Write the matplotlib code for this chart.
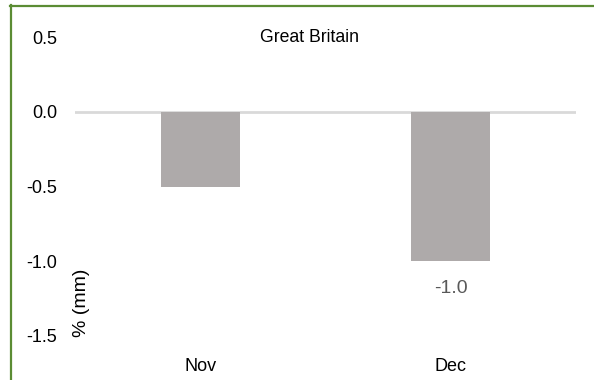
import matplotlib
matplotlib.use("Agg")
import matplotlib.pyplot as plt
from matplotlib.lines import Line2D
import matplotlib.transforms as mtransforms

plt.rcParams['font.family'] = ['Liberation Sans', 'DejaVu Sans']
plt.rcParams['axes.unicode_minus'] = False

categories = ["Nov", "Dec"]
values = [-0.5, -1.0]
show_label = [False, True]
yticks = [0.5, 0.0, -0.5, -1.0, -1.5]
title = "Great Britain"
ylabel = "% (mm)"

W, H = 594, 380
fig = plt.figure(figsize=(W / 100, H / 100), dpi=100)
ax = fig.add_axes([75 / W, (H - 336) / H, (576 - 75) / W, (336 - 37) / H])

x = list(range(len(categories)))
bars = ax.bar(x, values, width=0.315, color="#aeaaaa", zorder=2)
ax.axhline(0, color="#d9d9d9", lw=2, zorder=1)

for xi, v, s in zip(x, values, show_label):
    if s:
        ax.annotate(f"{v:.1f}", (xi, v), xytext=(0, -19.5), textcoords="offset points",
                    ha="center", va="center", fontsize=14, color="#595959")

ax.set_xlim(-0.5, 1.5)
ax.set_ylim(-1.5, 0.5)
ax.set_yticks(yticks)
ax.set_yticklabels([f"{t:.1f}" for t in yticks])
ax.set_xticks(x)
ax.set_xticklabels(categories)
ax.tick_params(axis="y", length=0, pad=13, labelsize=13, colors="black")
ax.tick_params(axis="x", length=0, pad=16, labelsize=13, colors="black")
for sp in ax.spines.values():
    sp.set_visible(False)

trans = mtransforms.blended_transform_factory(ax.transAxes, ax.transData)
ax.text((310 - 75) / 501, 0.5, title, transform=trans, ha="center", va="center", fontsize=12.7)

ylab_trans = trans + mtransforms.ScaledTranslation(6 / 100, 0, fig.dpi_scale_trans)
ax.text(0.0, -1.28, ylabel, transform=ylab_trans,
        rotation=90, ha="center", va="center", fontsize=14)

green = "#5b8c34"
fig.add_artist(Line2D([10.5 / W, 10.5 / W], [0, (H - 5) / H], color=green, lw=1.6, transform=fig.transFigure))
fig.add_artist(Line2D([10 / W, 1], [(H - 5.5) / H, (H - 5.5) / H], color=green, lw=1.6, transform=fig.transFigure))

fig.savefig("out.png", dpi=100)
